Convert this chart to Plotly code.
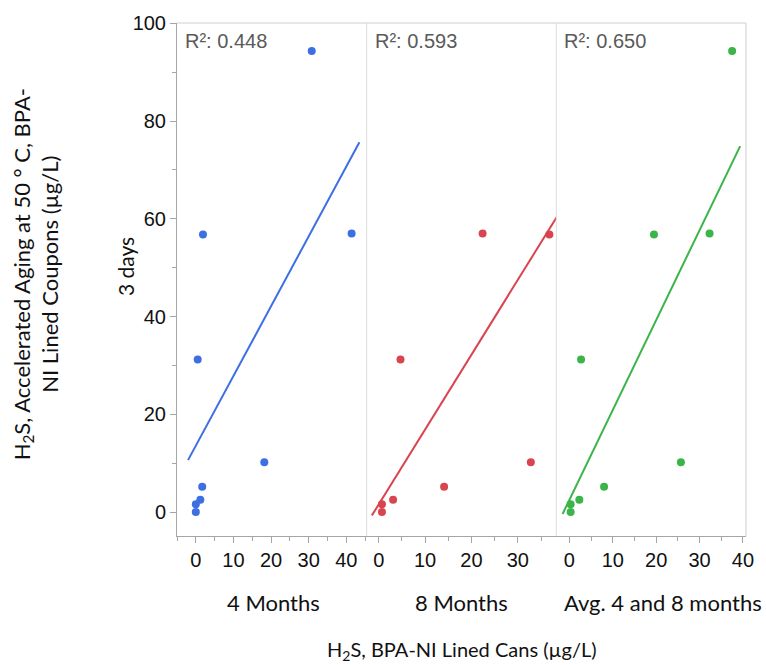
import numpy as np
import plotly.graph_objects as go

# ---- data ----
coupons_3days = [94.3, 56.8, 57.0, 31.2, 10.2, 5.2, 2.5, 1.6, 0.0]
cans_4_months = [30.8, 1.9, 41.4, 0.5, 18.2, 1.7, 1.2, 0.0, 0.0]
cans_8_months = [44.5, 36.8, 22.4, 4.7, 32.8, 14.1, 3.1, 0.7, 0.7]
cans_avg_4_8 = [37.5, 19.5, 32.3, 2.7, 25.7, 8.0, 2.3, 0.3, 0.3]
panel_labels = ["4 Months", "8 Months", "Avg. 4 and 8 months"]
r2_labels = ["0.448", "0.593", "0.650"]

series_x = [cans_4_months, cans_8_months, cans_avg_4_8]
colors = ["#3d6fe3", "#d9454f", "#3bb44a"]
x_ranges = [[-5, 45.4], [-2.6, 38.3], [-3, 40.7]]
y_range = [-4.9, 100.05]

TICK_FONT = dict(family="Liberation Sans, Arial, sans-serif", size=20, color="#111")
PANEL_FONT = dict(family="Lato, Open Sans, sans-serif", size=22, color="#111")
YTITLE_FONT = dict(family="Lato, Open Sans, sans-serif", size=22, color="#111")
DAYS_FONT = dict(family="Lato, Open Sans, sans-serif", size=21, color="#111")
XTITLE_FONT = dict(family="Lato, Open Sans, sans-serif", size=20, color="#111")
AXIS_GRAY = "#a6a6a6"
FRAME_GRAY = "#cfcfcf"

fig = go.Figure()

for i, (xs, col) in enumerate(zip(series_x, colors)):
    xa = "x" if i == 0 else f"x{i+1}"
    x = np.array(xs)
    y = np.array(coupons_3days)
    slope, icpt = np.polyfit(x, y, 1)
    span = x.max() - x.min()
    lx = np.array([x.min() - 0.05 * span, x.max() + 0.05 * span])
    fig.add_trace(go.Scatter(x=lx, y=slope * lx + icpt, mode="lines",
                             line=dict(color=col, width=2), xaxis=xa, yaxis="y",
                             showlegend=False, hoverinfo="skip"))
    fig.add_trace(go.Scatter(x=x, y=y, mode="markers",
                             marker=dict(color=col, size=8), xaxis=xa, yaxis="y",
                             showlegend=False))

layout = dict(
    width=766, height=665,
    margin=dict(l=177, r=16, t=21, b=129),
    paper_bgcolor="white", plot_bgcolor="white",
    showlegend=False,
)
for i in range(3):
    key = "xaxis" if i == 0 else f"xaxis{i+1}"
    layout[key] = dict(
        domain=[i / 3, (i + 1) / 3], range=x_ranges[i], anchor="y",
        tickmode="linear", tick0=0, dtick=10,
        showline=True, linecolor=AXIS_GRAY, linewidth=1,
        ticks="outside", ticklen=6, tickcolor=AXIS_GRAY,
        minor=dict(ticks="outside", dtick=5, tick0=0, ticklen=4, tickcolor=AXIS_GRAY, showgrid=False),
        showgrid=False, zeroline=False, tickfont=TICK_FONT,
    )
layout["yaxis"] = dict(
    domain=[0, 1], range=y_range, anchor="x",
    tickmode="linear", tick0=0, dtick=20,
    showline=True, linecolor=AXIS_GRAY, linewidth=1,
    ticks="outside", ticklen=6, tickcolor=AXIS_GRAY,
    minor=dict(ticks="outside", dtick=10, tick0=0, ticklen=4, tickcolor=AXIS_GRAY, showgrid=False),
    showgrid=False, zeroline=False, tickfont=TICK_FONT,
)
fig.update_layout(**layout)

# frame and panel dividers
shapes = [
    dict(type="line", xref="paper", yref="paper", x0=0, x1=1, y0=1, y1=1,
         line=dict(color=FRAME_GRAY, width=1)),
    dict(type="line", xref="paper", yref="paper", x0=1, x1=1, y0=0, y1=1,
         line=dict(color=FRAME_GRAY, width=1)),
]
for d in (1 / 3, 2 / 3):
    shapes.append(dict(type="line", xref="paper", yref="paper", x0=d, x1=d, y0=0, y1=1,
                       line=dict(color="#dcdcdc", width=1)))
fig.update_layout(shapes=shapes)

ann = []
panel_shift = [2, 0, 12]
for i in range(3):
    xr = "x" if i == 0 else f"x{i+1}"
    ann.append(dict(text=f"R²: {r2_labels[i]}", xref=f"{xr} domain", yref="y domain",
                    x=0, y=1, xanchor="left", yanchor="top", xshift=6, yshift=-5,
                    showarrow=False,
                    font=dict(family="Liberation Sans, Arial, sans-serif", size=20, color="#5a5a5a")))
    ann.append(dict(text=panel_labels[i], xref=f"{xr} domain", yref="paper",
                    x=0.5, y=-0.130, xanchor="center", yanchor="middle", xshift=panel_shift[i],
                    showarrow=False, font=PANEL_FONT))
ann.append(dict(text="H<sub>2</sub>S, BPA-NI Lined Cans (µg/L)", xref="paper", yref="paper",
                x=0.5, y=-0.223, xanchor="center", yanchor="middle",
                showarrow=False, font=XTITLE_FONT))
ann.append(dict(text="3 days", xref="paper", yref="paper",
                x=(125 - 177) / 573, y=0.525, xanchor="center", yanchor="middle",
                textangle=-90, showarrow=False, font=DAYS_FONT))
ann.append(dict(text="H<sub>2</sub>S, Accelerated Aging at 50 ° C, BPA-<br>NI Lined Coupons (µg/L)",
                xref="paper", yref="paper",
                x=(35 - 177) / 573, y=0.51, xanchor="center", yanchor="middle",
                textangle=-90, showarrow=False, font=YTITLE_FONT))
fig.update_layout(annotations=ann)

fig.write_html("out.html")
